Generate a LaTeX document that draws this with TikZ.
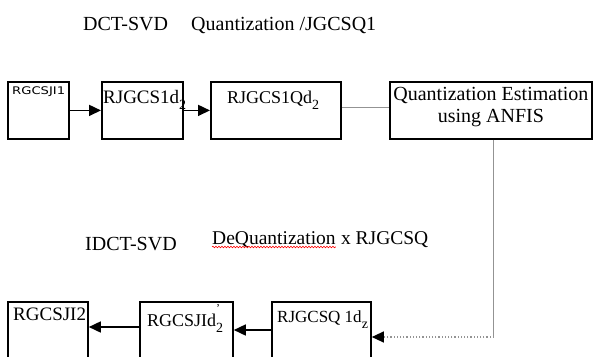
\documentclass[tikz,border=0pt]{standalone}
\usepackage{fontspec}
\setmainfont{Liberation Serif}
\newfontfamily\smallsans{DejaVu Sans}
\usetikzlibrary{arrows.meta,decorations.pathmorphing}
\newcommand{\setfs}[1]{\fontsize{#1}{#1}\selectfont}
\newcommand{\lowsub}[1]{\raisebox{-6pt}{\setfs{14}#1}}

\begin{document}
\begin{tikzpicture}[x=1pt, y=-1pt,
  blk/.style={draw, line width=1.8pt, anchor=north west, inner sep=0pt},
  txt/.style={anchor=base west, inner sep=0pt},
  arr/.style={line width=1.6pt, -{Triangle[length=12pt,width=11pt]}},
  thinln/.style={gray!85, line width=1pt},
  dotln/.style={gray!85, line width=1.2pt, dotted, -{Triangle[length=12pt,width=11pt,color=black]}}]
  \useasboundingbox (0,0) rectangle (593,356);
  % titles
  \node[txt, font=\setfs{20}] (dct) at (83,30) {DCT-SVD};
  \node[txt, font=\setfs{20}] (quant) at (191,30) {Quantization /JGCSQ1};
  \node[txt, font=\setfs{20}] (idct) at (85,250) {IDCT-SVD};
  \node[txt, font=\setfs{19.5}] (dqa) at (212,244) {DeQuantization};
  \node[txt, font=\setfs{19.5}] (dqb) at ([xshift=5pt]dqa.base east) {x RJGCSQ};
  \draw[red, line width=0.6pt, decorate, decoration={snake, amplitude=0.8pt, segment length=3pt}]
    ([yshift=-3pt]dqa.base west) -- ([yshift=-3pt]dqa.base east);
  % upper row
  \node[blk, minimum width=61pt, minimum height=57pt] (in1) at (7,81) {};
  \node[blk, minimum width=81pt, minimum height=57pt] (d1) at (101,81) {};
  \node[blk, minimum width=130pt, minimum height=57pt] (q1) at (210,81) {};
  \node[blk, minimum width=202pt, minimum height=57pt] (qe) at (389,81) {};
  \node[txt, font=\smallsans\setfs{10.5}, xscale=1.25] (in1t) at (12,94) {RGCSJI1};
  \node[txt, font=\setfs{19}] (d1t) at (103,103) {RJGCS1d\lowsub{2}};
  \node[txt, font=\setfs{18}] (q1t) at (227,103) {RJGCS1Qd\lowsub{2}};
  \node[align=center, font=\setfs{20}, inner sep=0pt] (qet) at ([yshift=3pt]qe.center)
    {Quantization Estimation\\[2pt]using ANFIS};
  \draw[arr] (in1) -- (d1);
  \draw[arr] (d1) -- (q1);
  \draw[thinln] ([yshift=3pt]q1.east) -- ([yshift=3pt]qe.west);
  % lower row
  \node[blk, minimum width=80pt, minimum height=80pt] (ra) at (7,301) {};
  \node[blk, minimum width=93pt, minimum height=80pt] (rb) at (139,301) {};
  \node[blk, minimum width=99pt, minimum height=80pt] (rq) at (271,301) {};
  \node[txt, font=\setfs{19}] (rat) at (13,320) {RGCSJI2};
  \node[txt, font=\setfs{18}] (rbt) at (147,326) {RGCSJId\rlap{\raisebox{14pt}{\setfs{12}'}}\lowsub{2}};
  \node[txt, font=\setfs{17}] (rqt) at (277,322) {RJGCSQ 1d\lowsub{z}};
  \draw[arr] ([yshift=-29pt]rq.north west) -- ([yshift=-29pt]rb.north east);
  \draw[arr] ([yshift=-26pt]rb.north west) -- ([yshift=-26pt]ra.north east);
  % feedback down to the lower row
  \coordinate (rqin) at ([yshift=-36pt]rq.north east);
  \coordinate (turn) at ([xshift=3pt]qe.south |- rqin);
  \draw[thinln] ([xshift=3pt]qe.south) -- (turn);
  \draw[dotln] (turn) -- (rqin);
\end{tikzpicture}
\end{document}
